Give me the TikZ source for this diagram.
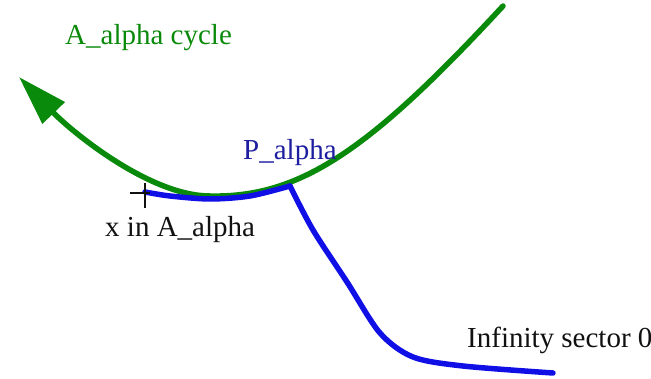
\documentclass[tikz,border=0pt]{standalone}
\usepackage{fontspec}
\setmainfont{Liberation Serif}
\usetikzlibrary{arrows.meta}
\definecolor{CycleGreen}{HTML}{0A8A0A}
\definecolor{PathBlue}{HTML}{1010E6}
\definecolor{LabelBlue}{HTML}{1E1EA0}
\definecolor{LabelInk}{HTML}{111111}
\tikzset{
  every node/.style={font=\fontsize{29}{34}\selectfont, inner sep=0pt, anchor=base west},
  cycle/.style={draw=CycleGreen, line width=5.5pt, line cap=round},
  sector/.style={draw=PathBlue, line width=5.5pt, line cap=round, line join=round},
  marker/.style={draw=LabelInk, line width=1.6pt},
}

\begin{document}
\begin{tikzpicture}[x=1pt,y=-1pt]
  \useasboundingbox (0,0) rectangle (651,379);
  % Points on the curves
  \coordinate (top) at (503,6);
  \coordinate (low) at (210,196);
  \coordinate (tip) at (19,77);
  \coordinate (x) at (145,192);
  \coordinate (pa) at (290,186);
  \coordinate (inf) at (553,373);
  % The cycle, drawn first so the sector path sits over it
  \draw[cycle,-{Triangle[length=50pt,width=30pt]}] (top)
    .. controls (370,150) and (300,198) .. (low)
    .. controls (150,196) and (72,132) .. (tip);
  % Path from x to the infinity sector
  \draw[sector] plot[smooth] coordinates {
    (x) (170,196) (210,199) (250,196) (pa)};
  \draw[sector] plot[smooth] coordinates {
    (pa) (313,230) (347,282) (380,333) (413,357) (463,366) (inf)};
  % Marker at x
  \draw[marker] (130,193) -- (150,193);
  \draw[marker] (x) ++(0,-9) -- ++(0,25);
  % Labels
  \node[text=CycleGreen] (cyclelbl) at (65,45) {A\_alpha cycle};
  \node[text=LabelBlue] (palbl) at (243,160) {P\_alpha};
  \node[text=LabelInk] (xlbl) at (105,237) {x in A\_alpha};
  \node[text=LabelInk] (inflbl) at (467,348) {Infinity sector 0};
\end{tikzpicture}
\end{document}
